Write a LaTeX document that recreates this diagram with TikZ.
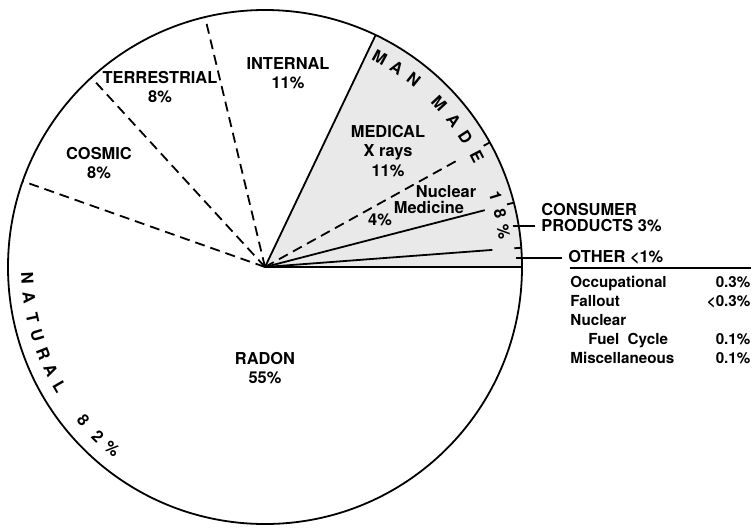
\documentclass[tikz,border=0pt]{standalone}
\usepackage{fontspec}
\setmainfont{TeX Gyre Heros}

\begin{document}
\begin{tikzpicture}[x=0.5pt,y=0.5pt,
  lbl/.style={font=\fontsize{8.2}{9.8}\selectfont\bfseries,align=center,inner sep=1pt},
  arcl/.style={font=\fontsize{8.2}{9}\selectfont\bfseries,inner sep=0pt},
  divider/.style={line width=0.9pt},
  dashdiv/.style={line width=0.9pt,dash pattern=on 5pt off 3pt}]
\useasboundingbox (-265,-260) rectangle (489,267);
\coordinate (c) at (0,0);
% man made sector
\fill[gray!17] (c) -- (0:257) arc[start angle=0,end angle=64.5,radius=257] -- cycle;
\draw[divider] (c) circle[radius=257];
\draw[divider] (c) -- (0:257);
\draw[divider] (c) -- (64.5:257);
\draw[dashdiv] (c) -- (103.5:257);
\draw[dashdiv] (c) -- (132.5:257);
\draw[dashdiv] (c) -- (160.5:257);
\draw[dashdiv] (c) -- (29:220);
\draw[divider] (c) -- (14.5:227);
\draw[divider] (c) -- (4.3:228);
\draw[divider] (29:250) -- (29:257);
\draw[divider] (14.5:250) -- (14.5:257);
\draw[divider] (4.3:250) -- (4.3:257);
% sector labels
\node[lbl] (internal) at (23,194) {INTERNAL\\11\%};
\node[lbl] (terrestrial) at (-105,180) {TERRESTRIAL\\8\%};
\node[lbl] (cosmic) at (-166,104) {COSMIC\\8\%};
\node[lbl] (medical) at (123,116) {MEDICAL\\X rays\\11\%};
\node[lbl] (nuclear) at (181,75) {Nuclear};
\node[lbl] (medicine) at (164,60) {Medicine};
\node[lbl] (nucpct) at (115,47) {4\%};
\node[lbl] (radon) at (0,-101) {RADON\\55\%};
% letters along the arc
\node[arcl,rotate=-28.7] (mm1) at (61.3:239) {M};
\node[arcl,rotate=-33.5] (mm2) at (56.5:239) {A};
\node[arcl,rotate=-38.5] (mm3) at (51.5:239) {N};
\node[arcl,rotate=-46.8] (mm4) at (43.2:239) {M};
\node[arcl,rotate=-52.2] (mm5) at (37.8:239) {A};
\node[arcl,rotate=-57] (mm6) at (33:239) {D};
\node[arcl,rotate=-62.5] (mm7) at (27.5:239) {E};
\node[arcl,rotate=-73] (mm8) at (17:241) {1};
\node[arcl,rotate=-77.2] (mm9) at (12.8:241) {8};
\node[arcl,rotate=-81.7] (mm10) at (8.3:241) {\%};
\node[arcl,rotate=272.7] (nat1) at (182.7:238) {N};
\node[arcl,rotate=277.5] (nat2) at (187.5:238) {A};
\node[arcl,rotate=282.3] (nat3) at (192.3:238) {T};
\node[arcl,rotate=286.8] (nat4) at (196.8:238) {U};
\node[arcl,rotate=291.3] (nat5) at (201.3:238) {R};
\node[arcl,rotate=295.8] (nat6) at (205.8:238) {A};
\node[arcl,rotate=300.3] (nat7) at (210.3:238) {L};
\node[arcl,rotate=310.2] (nat8) at (220.2:238) {8};
\node[arcl,rotate=315.4] (nat9) at (225.4:238) {2};
\node[arcl,rotate=320] (nat10) at (230:238) {\%};
% consumer products and other
\node[lbl,anchor=west,inner xsep=3pt] (products) at (270,41) {PRODUCTS 3\%};
\node[lbl,anchor=west,inner xsep=3pt] (consumer) at (270,57) {CONSUMER};
\coordinate (cp) at (9.4:251);
\draw[divider] (cp) -- (cp -| products.west);
\node[lbl,anchor=west,inner xsep=3pt] (other) at (297,10) {OTHER <1\%};
\coordinate (ot) at (2:251);
\draw[divider] (ot) -- (ot -| other.west);
\node[anchor=north west,inner xsep=0pt,inner ysep=3pt,font=\fontsize{7.6}{9.5}\selectfont\bfseries] (tab) at (305,-1) {%
\begin{tabular*}{90pt}{@{}l@{\extracolsep{\fill}}r@{}}
Occupational & 0.3\%\\
Fallout & <0.3\%\\
Nuclear & \\
\hspace{9pt}Fuel\ \ Cycle & 0.1\%\\
Miscellaneous & 0.1\%
\end{tabular*}};
\draw[line width=0.8pt] (tab.north west) -- (tab.north east);
\end{tikzpicture}
\end{document}
